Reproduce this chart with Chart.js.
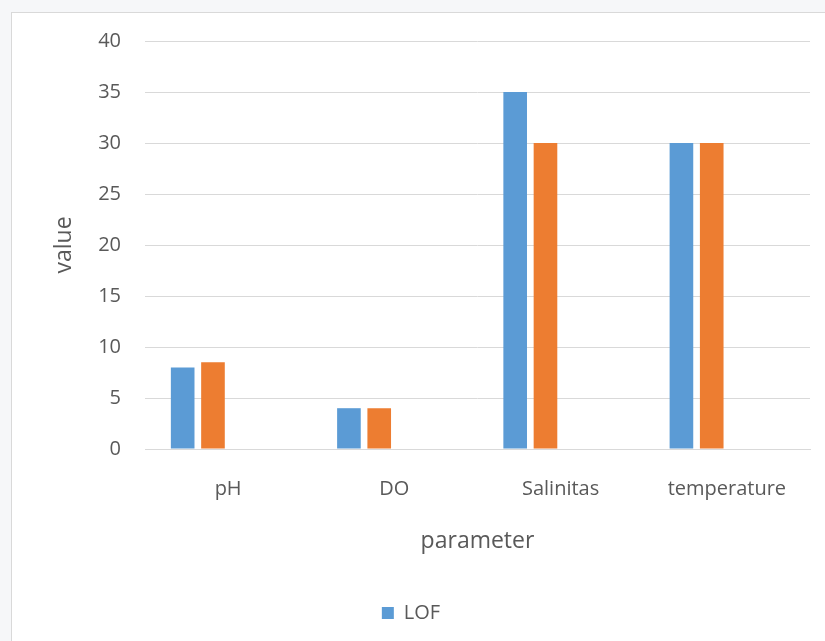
<!DOCTYPE html>
<html>
<head>
<meta charset="utf-8">
<script src="https://cdn.jsdelivr.net/npm/chart.js@4"></script>
<style>
  html, body { margin: 0; padding: 0; background: #f6f7f9; overflow: hidden; }
  #frame {
    position: absolute; left: 11px; top: 12px;
    width: 830px; height: 640px;
    background: #ffffff;
    border-left: 1px solid #d9d9d9; border-top: 1px solid #d9d9d9;
  }
  #wrap { position: absolute; left: 0; top: 0; width: 813px; height: 628px; }
</style>
</head>
<body>
<div id="frame"><div id="wrap"><canvas id="chart"></canvas></div></div>
<script>
// values
const categories = ['pH', 'DO', 'Salinitas', 'temperature'];
const lofValues = [8, 4, 35, 30];
const secondValues = [8.5, 4, 30, 30];
const thirdValues = [null, null, null, null];
const fourthValues = [null, null, null, null];
const yTicks = [0, 5, 10, 15, 20, 25, 30, 35, 40];

const textColor = '#595959';
const gridColor = '#d9d9d9';
const fontFamily = "'Open Sans', 'Noto Sans', sans-serif";

function series(label, data, color) {
    return {
        label: label,
        data: data,
        backgroundColor: color,
        borderWidth: 0,
        categoryPercentage: 0.729,
        barPercentage: 0.78
    };
}

new Chart(document.getElementById('chart'), {
    type: 'bar',
    data: {
        labels: categories,
        datasets: [
            series('LOF', lofValues, '#5b9bd5'),
            series('Series2', secondValues, '#ed7d31'),
            series('Series3', thirdValues, '#a5a5a5'),
            series('Series4', fourthValues, '#ffc000')
        ]
    },
    options: {
        responsive: true,
        maintainAspectRatio: false,
        animation: false,
        events: [],
        layout: { padding: { top: 28, right: 15, bottom: 8, left: 0 } },
        plugins: {
            tooltip: { enabled: false },
            legend: {
                position: 'bottom',
                labels: {
                    filter: (item) => item.datasetIndex === 0,
                    color: textColor,
                    font: { family: fontFamily, size: 20 },
                    boxWidth: 12,
                    boxHeight: 12,
                    padding: 10
                }
            }
        },
        scales: {
            x: {
                grid: { display: false, drawTicks: false },
                border: { display: true, color: gridColor, width: 1 },
                ticks: {
                    color: textColor,
                    font: { family: fontFamily, size: 20 },
                    padding: 28,
                    maxRotation: 0
                },
                title: {
                    display: true,
                    text: 'parameter',
                    color: textColor,
                    font: { family: fontFamily, size: 23 },
                    padding: { top: 0, bottom: 38 }
                },
                afterFit: (scale) => { scale.height = 144; }
            },
            y: {
                min: 0,
                max: 40,
                afterBuildTicks: (scale) => { scale.ticks = yTicks.map(v => ({ value: v })); },
                grid: { color: gridColor, lineWidth: 1, drawTicks: false },
                border: { display: false },
                ticks: {
                    color: textColor,
                    font: { family: fontFamily, size: 20 },
                    padding: 24
                },
                title: {
                    display: true,
                    text: 'value',
                    color: textColor,
                    font: { family: fontFamily, size: 23 },
                    padding: { top: 39, bottom: 0 }
                },
                afterFit: (scale) => {
                    scale.width = 133;
                    scale.paddingTop = 12;
                }
            }
        }
    }
});
</script>
</body>
</html>
